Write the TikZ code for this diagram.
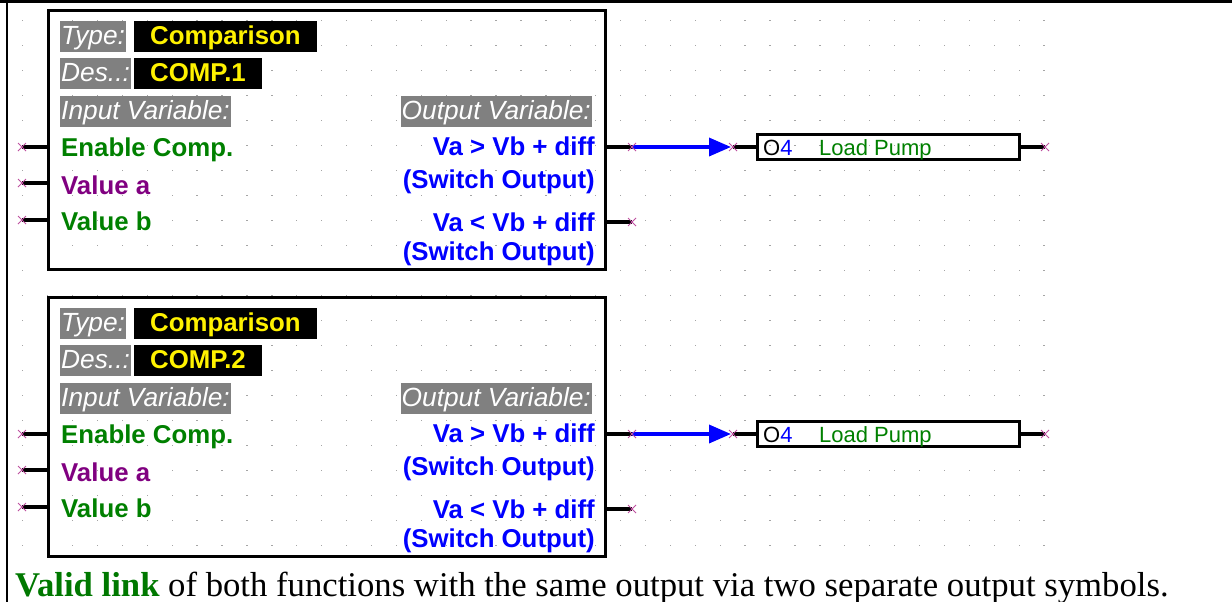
\documentclass[tikz,border=0pt]{standalone}
\usepackage{fontspec}
\setmainfont{Liberation Serif}
\newfontfamily\arial{Liberation Sans}
\usepackage{xcolor}
\usepackage{tikz}
\usetikzlibrary{positioning, shapes.misc, arrows.meta, calc}
\definecolor{lblgrey}{RGB}{128,128,128}
\definecolor{varpurple}{RGB}{128,0,128}
\definecolor{vargreen}{RGB}{0,128,0}
\definecolor{capgreen}{RGB}{0,120,0}
\definecolor{pinpink}{RGB}{190,80,160}
\definecolor{dotgrey}{RGB}{165,165,165}
\newcommand{\funcfont}{\arial\bfseries\fontsize{25.8}{30}\selectfont}

\begin{document}
\begin{tikzpicture}[x=1pt, y=-1pt]
	\tikzstyle{funcbox}=[draw=black, line width=3.5pt, minimum width=557pt, minimum height=259pt, inner sep=0pt]
	\tikzstyle{greylbl}=[fill=lblgrey, text=white, font=\arial\itshape\fontsize{26.3}{30}\selectfont, anchor=north west, inner xsep=1pt, inner ysep=0pt, text height=23pt, text depth=8pt]
	\tikzstyle{blacklbl}=[greylbl, fill=black, text=yellow, font=\funcfont, inner xsep=16pt]
	\tikzstyle{invar}=[font=\funcfont, anchor=base west, inner sep=0pt]
	\tikzstyle{outvar}=[font=\funcfont, text=blue, anchor=base east, inner sep=0pt]
	\tikzstyle{outsym}=[draw=black, line width=3.5pt, minimum width=262pt, minimum height=25pt, inner sep=0pt]
	\tikzstyle{symtext}=[font=\arial\fontsize{22}{26}\selectfont, anchor=base west, inner sep=0pt]
	\tikzstyle{pinline}=[line width=3.5pt]
	\tikzstyle{pinmark}=[cross out, draw=pinpink, line width=1pt, minimum size=7pt, inner sep=0pt]
	\tikzstyle{sigline}=[draw=blue, line width=3.5pt, shorten >=2pt, -{Triangle[length=22pt, width=18pt]}]

	\useasboundingbox (0,0) rectangle (1232,602);

%%	dot grid of the editor
	\foreach \i in {0,...,41}
		\foreach \j in {0,...,21}
			\fill[dotgrey] (22.1+24.91*\i, 21.1+25*\j) rectangle +(1.3,-1.3);

%%	table frame
	\draw[line width=3pt] (0,1.5) -- (1232,1.5);
	\draw[line width=2pt] (7,0) -- (7,602);

	\foreach \n/\dy in {1/0, 2/287}{
		\node (f\n) at (327,140+\dy) [funcbox]{};

		\node (f\n-type) at (60,21+\dy) [greylbl]{Type:};
		\node (f\n-typev) at (134,21+\dy) [blacklbl]{Comparison};
		\node (f\n-des) at (60,58+\dy) [greylbl]{Des..:};
		\node (f\n-desv) at (134,58+\dy) [blacklbl]{COMP.\n};
		\node (f\n-inv) at (60,96+\dy) [greylbl]{Input Variable:};
		\node (f\n-outv) at (592,96+\dy) [greylbl, anchor=north east]{Output Variable:};

		\node (f\n-in1) at (61,156+\dy) [invar, text=vargreen]{Enable Comp.};
		\node (f\n-in2) at (61,194+\dy) [invar, text=varpurple]{Value a};
		\node (f\n-in3) at (61,230+\dy) [invar, text=vargreen]{Value b};

		\node (f\n-out1) at (595,155+\dy) [outvar]{Va > Vb + diff};
		\node (f\n-out1s) at (595,188+\dy) [outvar]{(Switch Output)};
		\node (f\n-out2) at (595,231+\dy) [outvar]{Va < Vb + diff};
		\node (f\n-out2s) at (595,260+\dy) [outvar]{(Switch Output)};

%%		input pins
		\coordinate (f\n-e1) at (22,147+\dy);
		\coordinate (f\n-e2) at (22,183+\dy);
		\coordinate (f\n-e3) at (22,220+\dy);
		\draw[pinline] (f\n-e1) -- (f\n-e1 -| f\n.west);
		\draw[pinline] (f\n-e2) -- (f\n-e2 -| f\n.west);
		\draw[pinline] (f\n-e3) -- (f\n-e3 -| f\n.west);

%%		output pins
		\coordinate (f\n-q1) at (632,147+\dy);
		\coordinate (f\n-q2) at (632,222+\dy);
		\draw[pinline] (f\n-q1 -| f\n.east) -- (f\n-q1);
		\draw[pinline] (f\n-q2 -| f\n.east) -- (f\n-q2);

%%		output symbol
		\node (o\n) at (888.5,147+\dy) [outsym]{};
		\coordinate (o\n-in) at (733,147+\dy);
		\coordinate (o\n-out) at (1045,147+\dy);
		\draw[pinline] (o\n-in) -- (o\n.west);
		\draw[pinline] (o\n.east) -- (o\n-out);
		\node (o\n-num) at (763,155+\dy) [symtext]{O\textcolor{blue}{4}};
		\node (o\n-name) at (819,155+\dy) [symtext, text=vargreen]{Load Pump};

		\draw[sigline] (f\n-q1) -- (o\n-in);

		\node (f\n-x1) at (f\n-e1) [pinmark]{};
		\node (f\n-x2) at (f\n-e2) [pinmark]{};
		\node (f\n-x3) at (f\n-e3) [pinmark]{};
		\node (f\n-y1) at (f\n-q1) [pinmark]{};
		\node (f\n-y2) at (f\n-q2) [pinmark]{};
		\node (o\n-x) at (o\n-in) [pinmark]{};
		\node (o\n-y) at (o\n-out) [pinmark]{};
	}

	\node (caption) at (15,596) [anchor=base west, inner sep=0pt, font=\fontsize{34.7}{38}\selectfont]{\textcolor{capgreen}{\bfseries Valid link} of both functions with the same output via two separate output symbols.};
\end{tikzpicture}
\end{document}
